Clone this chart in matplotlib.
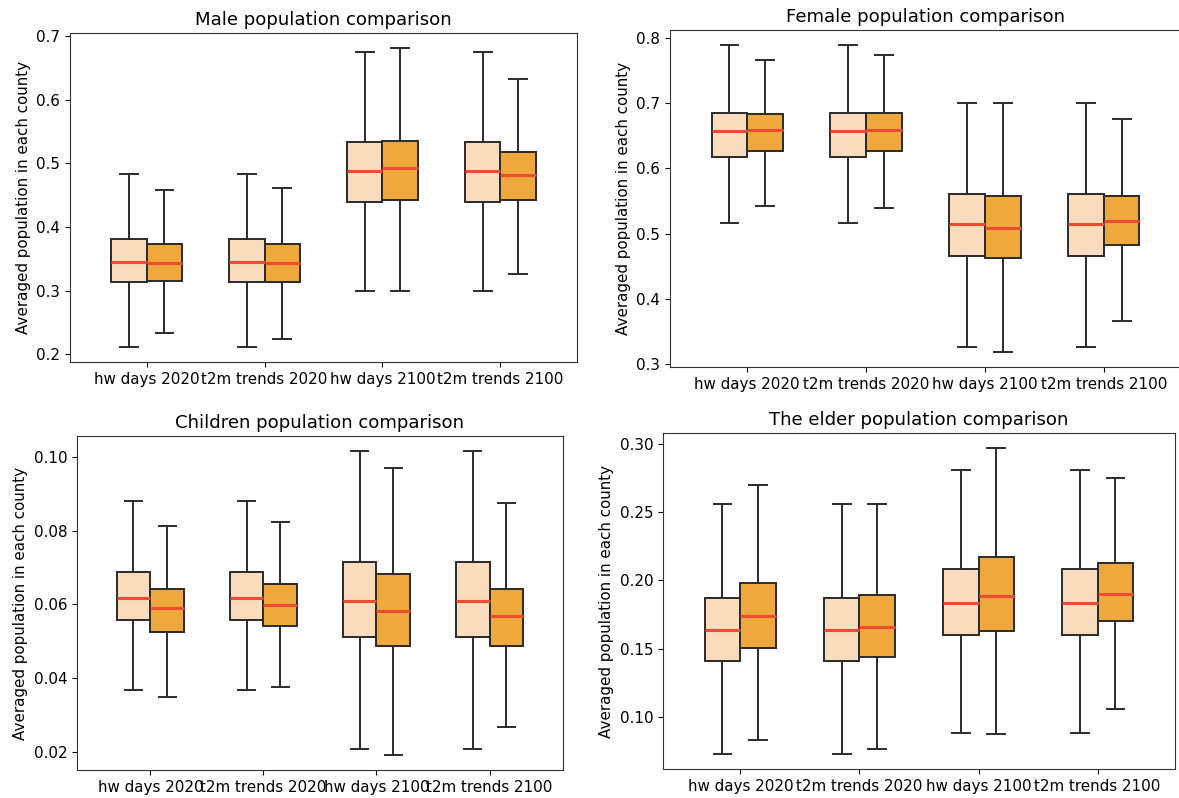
import matplotlib
matplotlib.use("Agg")
import matplotlib.pyplot as plt
import numpy as np

plt.rcParams['font.size'] = 10.9

labels = ['hw days 2020', 't2m trends 2020', 'hw days 2100', 't2m trends 2100']
titles = ['Male population comparison', 'Female population comparison',
          'Children population comparison', 'The elder population comparison']

# five-number summaries per panel: rows = [min, q1, median, q3, max], cols = categories
male_light = np.array([[0.2115, 0.2115, 0.2995, 0.2995],
                       [0.3136, 0.3136, 0.440, 0.440],
                       [0.3455, 0.3455, 0.488, 0.488],
                       [0.381, 0.381, 0.534, 0.534],
                       [0.483, 0.483, 0.675, 0.675]])
male_orange = np.array([[0.2335, 0.2236, 0.2995, 0.3257],
                        [0.315, 0.3136, 0.4419, 0.4419],
                        [0.344, 0.3435, 0.4927, 0.4812],
                        [0.373, 0.373, 0.5356, 0.5173],
                        [0.458, 0.461, 0.6817, 0.6335]])

female_light = np.array([[0.516, 0.516, 0.3266, 0.3266],
                         [0.6178, 0.6178, 0.4658, 0.4658],
                         [0.6567, 0.6567, 0.5144, 0.5144],
                         [0.6854, 0.6854, 0.5605, 0.5605],
                         [0.7887, 0.7887, 0.700, 0.700]])
female_orange = np.array([[0.5416, 0.5395, 0.3189, 0.3665],
                          [0.627, 0.627, 0.4632, 0.4827],
                          [0.6593, 0.6593, 0.5093, 0.519],
                          [0.6833, 0.6854, 0.5574, 0.5574],
                          [0.7667, 0.7744, 0.700, 0.6751]])

children_light = np.array([[0.0367, 0.0367, 0.0209, 0.0209],
                           [0.0558, 0.0558, 0.0512, 0.0512],
                           [0.0618, 0.0618, 0.0610, 0.0610],
                           [0.0687, 0.0687, 0.0716, 0.0716],
                           [0.0880, 0.0880, 0.1015, 0.1015]])
children_orange = np.array([[0.0350, 0.0376, 0.0192, 0.0267],
                            [0.0525, 0.0541, 0.0486, 0.0486],
                            [0.0590, 0.0598, 0.0581, 0.0569],
                            [0.0641, 0.0655, 0.0683, 0.0641],
                            [0.0812, 0.0824, 0.0970, 0.0874]])

elder_light = np.array([[0.0727, 0.0727, 0.0882, 0.0882],
                        [0.1405, 0.1405, 0.1597, 0.1597],
                        [0.1639, 0.1639, 0.1833, 0.1833],
                        [0.1870, 0.1870, 0.2084, 0.2084],
                        [0.2560, 0.2560, 0.2811, 0.2811]])
elder_orange = np.array([[0.0828, 0.0759, 0.0872, 0.1054],
                         [0.1506, 0.1437, 0.1631, 0.1700],
                         [0.1740, 0.1661, 0.1887, 0.1900],
                         [0.1983, 0.1894, 0.2174, 0.2128],
                         [0.2698, 0.2560, 0.2971, 0.2754]])

panels = [(male_light, male_orange), (female_light, female_orange),
          (children_light, children_orange), (elder_light, elder_orange)]

# axes rectangles in figure fraction (left, bottom, width, height)
rects = [[0.0594, 0.5464, 0.4300, 0.4123],
         [0.5683, 0.5401, 0.4334, 0.4223],
         [0.0653, 0.0351, 0.4122, 0.4185],
         [0.5623, 0.0363, 0.4343, 0.4211]]

light_color = '#f9dcbd'
orange_color = '#efa83b'
median_color = '#ee4b33'
edge = '#2a2a2a'


def make_stats(arr):
    stats = []
    for j in range(arr.shape[1]):
        lo, q1, med, q3, hi = arr[:, j]
        stats.append(dict(whislo=lo, q1=q1, med=med, q3=q3, whishi=hi, fliers=[]))
    return stats


fig = plt.figure(figsize=(11.79, 7.98), dpi=100)
x = np.arange(1, len(labels) + 1)

for rect, title, (light, orange) in zip(rects, titles, panels):
    ax = fig.add_axes(rect)
    for arr, col, off in [(light, light_color, -0.15), (orange, orange_color, 0.15)]:
        ax.bxp(make_stats(arr), positions=x + off, widths=0.3, patch_artist=True,
               showfliers=False,
               boxprops=dict(facecolor=col, edgecolor=edge, linewidth=1.4),
               whiskerprops=dict(color=edge, linewidth=1.4),
               capprops=dict(color=edge, linewidth=1.4),
               medianprops=dict(color=median_color, linewidth=2.2))
    ax.set_xticks(x)
    ax.set_xticklabels(labels)
    ax.set_title(title)
    ax.set_ylabel('Averaged population in each county')
    for s in ax.spines.values():
        s.set_color('#333333')

fig.savefig('out.png', dpi=100)
